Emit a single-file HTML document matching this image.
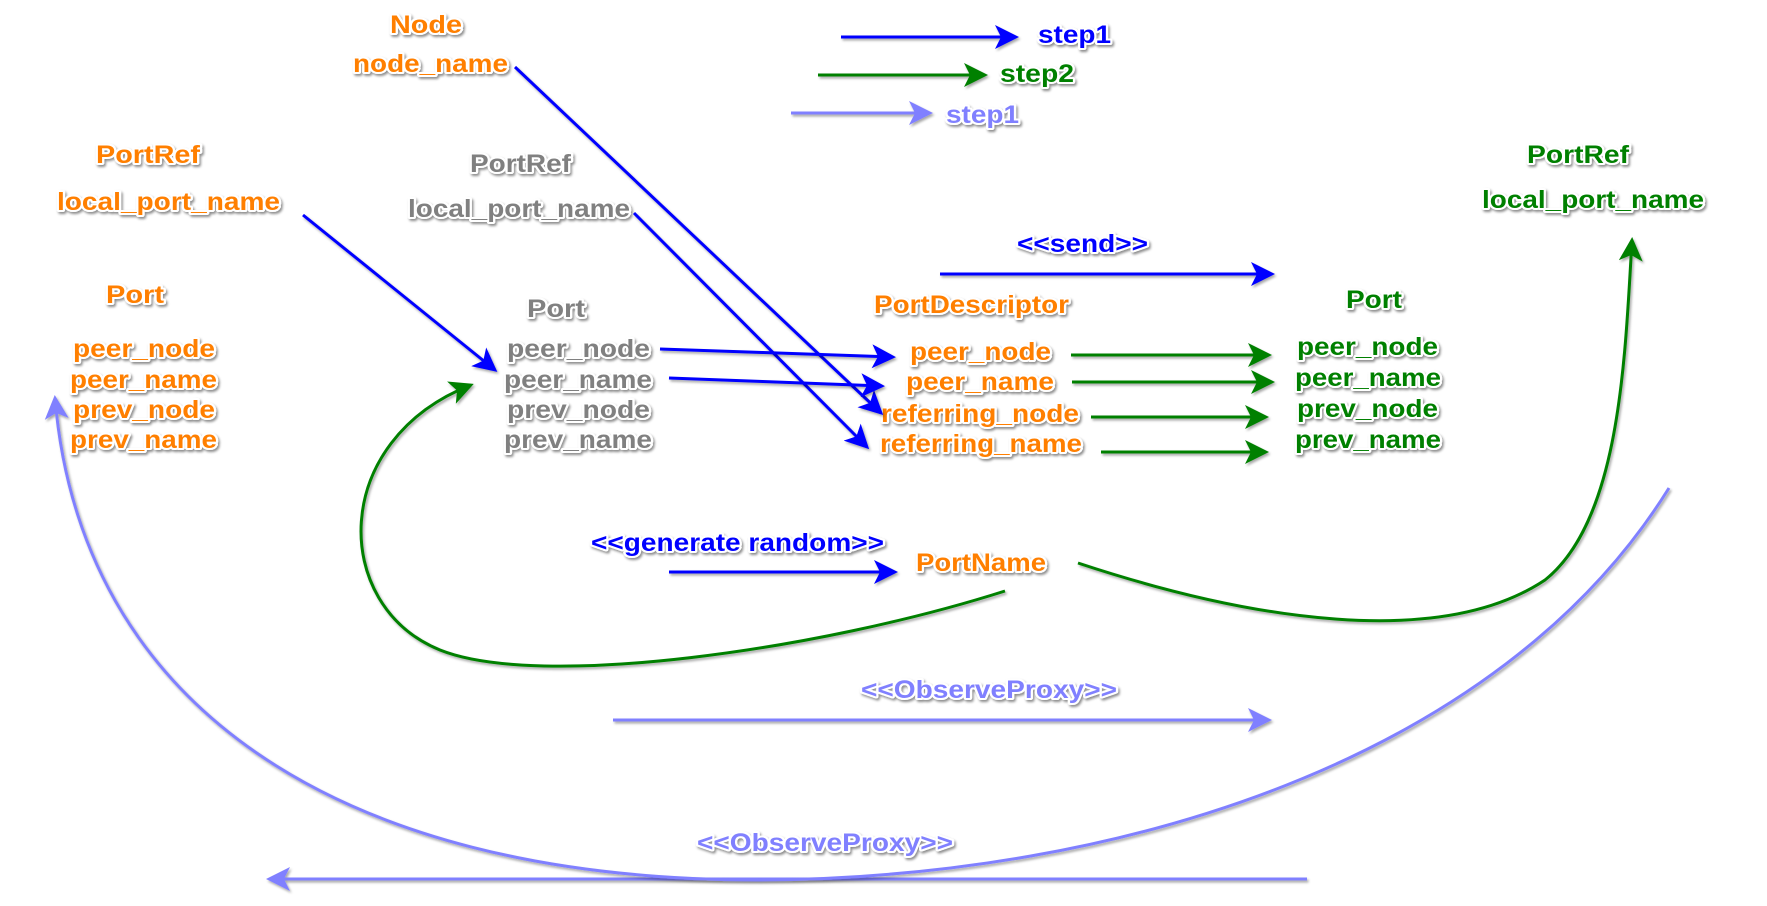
<!DOCTYPE html>
<html><head><meta charset="utf-8"><style>
html,body{margin:0;padding:0;background:#fff;}
svg{display:block;}
text{font-family:"Liberation Sans",sans-serif;font-weight:bold;font-size:25px;paint-order:stroke;stroke:#fff;stroke-width:4px;stroke-linejoin:round;filter:url(#ts);}
.o{fill:#ff7f00}.g{fill:#808080}.gr{fill:#008000}.b{fill:#0000ff}.l{fill:#8080ff}
path.ln{fill:none;stroke-width:3;filter:url(#ls);}
</style></head><body>
<svg width="1767" height="906" viewBox="0 0 1767 906" xmlns="http://www.w3.org/2000/svg">
<defs>
<filter id="ts" x="-10%" y="-30%" width="120%" height="160%"><feDropShadow dx="1.5" dy="2" stdDeviation="1.2" flood-color="#000" flood-opacity="0.45"/></filter>
<filter id="ls" filterUnits="userSpaceOnUse" x="0" y="0" width="1767" height="906"><feDropShadow dx="1.5" dy="2" stdDeviation="1.2" flood-color="#000" flood-opacity="0.35"/></filter>
<marker id="mb" markerWidth="8" markerHeight="8" refX="7" refY="4" orient="auto" markerUnits="strokeWidth"><path d="M0,0 L8,4 L0,8 L2,4 Z" fill="#0000ff"/></marker>
<marker id="mg" markerWidth="8" markerHeight="8" refX="7" refY="4" orient="auto" markerUnits="strokeWidth"><path d="M0,0 L8,4 L0,8 L2,4 Z" fill="#008000"/></marker>
<marker id="ml" markerWidth="8" markerHeight="8" refX="7" refY="4" orient="auto" markerUnits="strokeWidth"><path d="M0,0 L8,4 L0,8 L2,4 Z" fill="#8080ff"/></marker>
</defs>

<!-- legend -->
<path class="ln" d="M841,37 L1016,37" stroke="#0000ff" marker-end="url(#mb)"/>
<path class="ln" d="M818,75 L985,75" stroke="#008000" marker-end="url(#mg)"/>
<path class="ln" d="M791,113 L930,113" stroke="#8080ff" marker-end="url(#ml)"/>
<text class="b" x="1038" y="43" textLength="73" lengthAdjust="spacingAndGlyphs">step1</text>
<text class="gr" x="1000" y="82" textLength="74" lengthAdjust="spacingAndGlyphs">step2</text>
<text class="l" x="946" y="123" textLength="73" lengthAdjust="spacingAndGlyphs">step1</text>

<!-- left orange -->
<text class="o" x="390" y="33" textLength="72" lengthAdjust="spacingAndGlyphs">Node</text>
<text class="o" x="353" y="72" textLength="155" lengthAdjust="spacingAndGlyphs">node_name</text>
<text class="o" x="96" y="163" textLength="104" lengthAdjust="spacingAndGlyphs">PortRef</text>
<text class="o" x="57" y="210" textLength="223" lengthAdjust="spacingAndGlyphs">local_port_name</text>
<text class="o" x="106" y="303" textLength="58" lengthAdjust="spacingAndGlyphs">Port</text>
<text class="o" x="73" y="357" textLength="142" lengthAdjust="spacingAndGlyphs">peer_node</text>
<text class="o" x="70" y="388" textLength="147" lengthAdjust="spacingAndGlyphs">peer_name</text>
<text class="o" x="73" y="418" textLength="142" lengthAdjust="spacingAndGlyphs">prev_node</text>
<text class="o" x="70" y="448" textLength="147" lengthAdjust="spacingAndGlyphs">prev_name</text>

<!-- gray -->
<text class="g" x="470" y="172" textLength="101" lengthAdjust="spacingAndGlyphs">PortRef</text>
<text class="g" x="408" y="217" textLength="222" lengthAdjust="spacingAndGlyphs">local_port_name</text>
<text class="g" x="527" y="317" textLength="58" lengthAdjust="spacingAndGlyphs">Port</text>
<text class="g" x="507" y="357" textLength="143" lengthAdjust="spacingAndGlyphs">peer_node</text>
<text class="g" x="504" y="388" textLength="148" lengthAdjust="spacingAndGlyphs">peer_name</text>
<text class="g" x="507" y="418" textLength="143" lengthAdjust="spacingAndGlyphs">prev_node</text>
<text class="g" x="504" y="448" textLength="148" lengthAdjust="spacingAndGlyphs">prev_name</text>

<!-- port descriptor -->
<text class="b" x="1017" y="252" textLength="131" lengthAdjust="spacingAndGlyphs">&lt;&lt;send&gt;&gt;</text>
<path class="ln" d="M940,274 L1272,274" stroke="#0000ff" marker-end="url(#mb)"/>
<text class="o" x="874" y="313" textLength="195" lengthAdjust="spacingAndGlyphs">PortDescriptor</text>
<text class="o" x="910" y="360" textLength="141" lengthAdjust="spacingAndGlyphs">peer_node</text>
<text class="o" x="906" y="390" textLength="148" lengthAdjust="spacingAndGlyphs">peer_name</text>
<text class="o" x="881" y="422" textLength="198" lengthAdjust="spacingAndGlyphs">referring_node</text>
<text class="o" x="880" y="452" textLength="202" lengthAdjust="spacingAndGlyphs">referring_name</text>

<!-- green right -->
<text class="gr" x="1527" y="163" textLength="102" lengthAdjust="spacingAndGlyphs">PortRef</text>
<text class="gr" x="1482" y="208" textLength="222" lengthAdjust="spacingAndGlyphs">local_port_name</text>
<text class="gr" x="1346" y="308" textLength="56" lengthAdjust="spacingAndGlyphs">Port</text>
<text class="gr" x="1297" y="355" textLength="141" lengthAdjust="spacingAndGlyphs">peer_node</text>
<text class="gr" x="1295" y="386" textLength="146" lengthAdjust="spacingAndGlyphs">peer_name</text>
<text class="gr" x="1297" y="417" textLength="141" lengthAdjust="spacingAndGlyphs">prev_node</text>
<text class="gr" x="1295" y="448" textLength="146" lengthAdjust="spacingAndGlyphs">prev_name</text>

<!-- blue arrows -->
<path class="ln" d="M515,67 L881,413" stroke="#0000ff" marker-end="url(#mb)"/>
<path class="ln" d="M634,213 L867,447" stroke="#0000ff" marker-end="url(#mb)"/>
<path class="ln" d="M303,215 L495,370" stroke="#0000ff" marker-end="url(#mb)"/>
<path class="ln" d="M660,349 L893,357" stroke="#0000ff" marker-end="url(#mb)"/>
<path class="ln" d="M669,378 L882,386" stroke="#0000ff" marker-end="url(#mb)"/>

<!-- green arrows -->
<path class="ln" d="M1071,355 L1269,355" stroke="#008000" marker-end="url(#mg)"/>
<path class="ln" d="M1072,382 L1272,382" stroke="#008000" marker-end="url(#mg)"/>
<path class="ln" d="M1091,417 L1266,417" stroke="#008000" marker-end="url(#mg)"/>
<path class="ln" d="M1101,452 L1266,452" stroke="#008000" marker-end="url(#mg)"/>

<!-- PortName -->
<text class="b" x="591" y="551" textLength="293" lengthAdjust="spacingAndGlyphs">&lt;&lt;generate random&gt;&gt;</text>
<path class="ln" d="M669,572 L895,572" stroke="#0000ff" marker-end="url(#mb)"/>
<text class="o" x="916" y="571" textLength="130" lengthAdjust="spacingAndGlyphs">PortName</text>

<path class="ln" d="M1005,591 C 820,650 540,690 440,650 C 330,605 330,440 471,385" stroke="#008000" marker-end="url(#mg)"/>
<path class="ln" d="M1078,563 C 1250,620 1440,650 1545,580 C 1620,520 1625,360 1632,240" stroke="#008000" marker-end="url(#mg)"/>

<!-- observe proxy -->
<text class="l" x="861" y="698" textLength="256" lengthAdjust="spacingAndGlyphs">&lt;&lt;ObserveProxy&gt;&gt;</text>
<path class="ln" d="M613,720 L1269,720" stroke="#8080ff" marker-end="url(#ml)"/>
<text class="l" x="697" y="851" textLength="256" lengthAdjust="spacingAndGlyphs">&lt;&lt;ObserveProxy&gt;&gt;</text>
<path class="ln" d="M1307,879 L269,879" stroke="#8080ff" marker-end="url(#ml)"/>
<path class="ln" d="M1669,488 C 1500,760 1120,878 760,880 C 330,880 80,700 55,398" stroke="#8080ff" marker-end="url(#ml)"/>
</svg>
</body></html>
